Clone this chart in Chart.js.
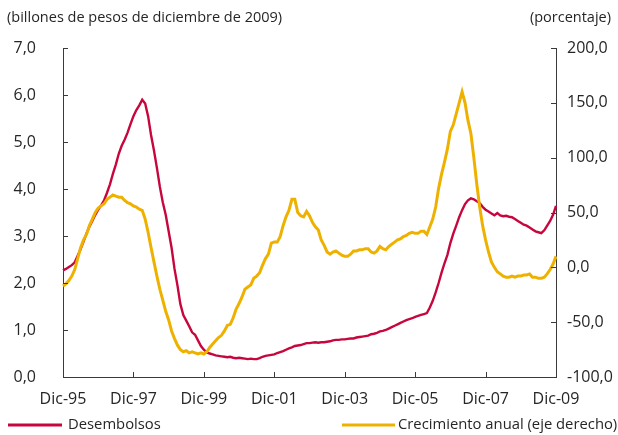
<!DOCTYPE html>
<html>
<head>
<meta charset="utf-8">
<script src="https://cdn.jsdelivr.net/npm/chart.js@4/dist/chart.umd.min.js"></script>
<style>
  html, body { margin: 0; padding: 0; background: #fff; }
  #wrap { width: 618px; height: 435px; }
</style>
</head>
<body>
<div id="wrap"><canvas id="chart" width="618" height="435"></canvas></div>
<script>
// Monthly series, Dic-95 .. Dic-09 (169 months)
const monthNames = ['Ene', 'Feb', 'Mar', 'Abr', 'May', 'Jun', 'Jul', 'Ago', 'Sep', 'Oct', 'Nov', 'Dic']
const firstYear = 1995
const lastYear = 2009

// Desembolsos (billones de pesos de diciembre de 2009), left axis
const desembolsos = [
  2.27,
  2.30, 2.34, 2.38, 2.44, 2.58, 2.72, 2.88, 3.05, 3.20, 3.32, 3.45, 3.56,
  3.65, 3.76, 3.92, 4.10, 4.32, 4.52, 4.75, 4.92, 5.05, 5.20, 5.38, 5.55,
  5.68, 5.78, 5.90, 5.82, 5.55, 5.15, 4.82, 4.45, 4.05, 3.72, 3.45, 3.10,
  2.75, 2.30, 1.95, 1.55, 1.32, 1.20, 1.08, 0.95, 0.90, 0.78, 0.66, 0.58,
  0.52, 0.50, 0.48, 0.46, 0.45, 0.44, 0.43, 0.42, 0.43, 0.41, 0.40, 0.41,
  0.40, 0.39, 0.38, 0.39, 0.38, 0.38, 0.40, 0.43, 0.45, 0.46, 0.47, 0.48,
  0.51, 0.53, 0.55, 0.58, 0.61, 0.63, 0.66, 0.67, 0.68, 0.70, 0.72, 0.72,
  0.73, 0.74, 0.73, 0.74, 0.74, 0.75, 0.76, 0.78, 0.79, 0.79, 0.80, 0.80,
  0.81, 0.82, 0.82, 0.84, 0.85, 0.86, 0.87, 0.88, 0.91, 0.92, 0.94, 0.97,
  0.98, 1.00, 1.03, 1.06, 1.09, 1.12, 1.15, 1.18, 1.21, 1.23, 1.25, 1.28,
  1.30, 1.32, 1.34, 1.36, 1.48, 1.62, 1.80, 2.00, 2.22, 2.42, 2.60, 2.85,
  3.05, 3.22, 3.40, 3.55, 3.68, 3.76, 3.80, 3.78, 3.74, 3.70, 3.62, 3.56,
  3.52, 3.48, 3.44, 3.49, 3.44, 3.42, 3.43, 3.41, 3.40, 3.36, 3.32, 3.28,
  3.24, 3.22, 3.18, 3.14, 3.10, 3.08, 3.06, 3.12, 3.22, 3.32, 3.45, 3.64
]

// Crecimiento anual (porcentaje), right axis
const crecimiento = [
  -17,
  -15, -12, -8, -2, 8, 18, 25, 30, 38, 44, 50, 54,
  56, 58, 62, 64, 66, 65, 64, 64, 61, 59, 58, 56,
  55, 53, 52, 44, 32, 18, 5, -8, -20, -30, -40, -48,
  -58, -65, -71, -75, -77, -76, -78, -77, -78, -79, -78, -79,
  -77, -73, -70, -67, -64, -62, -58, -53, -52, -46, -38, -33,
  -27, -20, -18, -16, -10, -8, -5, 2, 8, 12, 22, 23,
  23, 28, 38, 46, 52, 62, 62, 50, 47, 46, 51, 47,
  41, 37, 34, 25, 20, 14, 12, 14, 15, 13, 11, 10,
  10, 12, 15, 15, 16, 16, 17, 17, 14, 13, 15, 19,
  17, 16, 19, 21, 23, 25, 26, 28, 29, 31, 32, 31,
  31, 33, 33, 30, 37, 44, 55, 72, 85, 96, 108, 124,
  130, 140, 150, 160, 150, 134, 122, 100, 76, 55, 38, 25,
  14, 5, 0, -4, -6, -8, -9, -9, -8, -9, -8, -8,
  -7, -7, -6, -9, -9, -10, -10, -9, -6, -2, 3, 10
]

const leftTicks = { min: 0, max: 7, step: 1 }
const rightTicks = { min: -100, max: 200, step: 50 }

const labels = []
for (let y = firstYear; y <= lastYear; y++) {
  monthNames.forEach((m, i) => {
    if (y === firstYear && i < 11) return
    labels.push(m + '-' + String(y).slice(2))
  })
}

const RED = '#C8063E'
const GOLD = '#EFB100'
const AXIS = '#3a3a3a'
const TEXT = '#262626'
const FONT = '"Open Sans", sans-serif'

const fmt = v => v.toFixed(1).replace('.', ',')

// inside tick marks, titles and legend
const decorations = {
  id: 'decorations',
  afterDraw(chart) {
    const ctx = chart.ctx
    const { left, right, top, bottom } = chart.chartArea
    const x = chart.scales.x
    const y = chart.scales.y
    const y1 = chart.scales.y1
    ctx.save()
    ctx.strokeStyle = AXIS
    ctx.lineWidth = 1
    ctx.beginPath()
    labels.forEach((l, i) => {
      if (i % 24 !== 0) return
      const px = Math.round(x.getPixelForValue(i)) + 0.5
      ctx.moveTo(px, bottom)
      ctx.lineTo(px, bottom - 5)
    })
    for (let v = leftTicks.min; v <= leftTicks.max; v += leftTicks.step) {
      const py = Math.round(y.getPixelForValue(v)) + 0.5
      ctx.moveTo(left, py)
      ctx.lineTo(left + 5, py)
    }
    for (let v = rightTicks.min; v <= rightTicks.max; v += rightTicks.step) {
      const py = Math.round(y1.getPixelForValue(v)) + 0.5
      ctx.moveTo(right, py)
      ctx.lineTo(right - 5, py)
    }
    ctx.stroke()

    ctx.fillStyle = TEXT
    ctx.font = '14.5px ' + FONT
    ctx.textBaseline = 'middle'
    ctx.textAlign = 'left'
    ctx.fillText('(billones de pesos de diciembre de 2009)', 7, 18)
    ctx.textAlign = 'right'
    ctx.fillText('(porcentaje)', 611, 18)

    // legend
    const ly = 425
    ctx.lineWidth = 3
    ctx.strokeStyle = RED
    ctx.beginPath(); ctx.moveTo(8, ly); ctx.lineTo(62, ly); ctx.stroke()
    ctx.strokeStyle = GOLD
    ctx.beginPath(); ctx.moveTo(342, ly); ctx.lineTo(395, ly); ctx.stroke()
    ctx.textAlign = 'left'
    ctx.font = '14.8px ' + FONT
    ctx.fillText('Desembolsos', 68, ly)
    ctx.fillText('Crecimiento anual (eje derecho)', 398, ly)
    ctx.restore()
  }
}

new Chart(document.getElementById('chart'), {
  type: 'line',
  data: {
    labels: labels,
    datasets: [
      {
        label: 'Desembolsos',
        data: desembolsos,
        yAxisID: 'y',
        borderColor: RED,
        borderWidth: 2.4,
        pointRadius: 0,
        tension: 0,
        order: 1
      },
      {
        label: 'Crecimiento anual (eje derecho)',
        data: crecimiento,
        yAxisID: 'y1',
        borderColor: GOLD,
        borderWidth: 3,
        pointRadius: 0,
        tension: 0,
        order: 0
      }
    ]
  },
  options: {
    responsive: false,
    animation: false,
    layout: { padding: { top: 48, left: 0, right: 0, bottom: 0 } },
    plugins: {
      legend: { display: false },
      tooltip: { enabled: false }
    },
    scales: {
      x: {
        offset: false,
        afterFit: s => { s.height = 58 },
        grid: { display: false, drawTicks: false },
        border: { display: true, color: AXIS, width: 1 },
        ticks: {
          autoSkip: false,
          maxRotation: 0,
          padding: 13,
          color: TEXT,
          font: { family: FONT, size: 16 },
          callback: function(v, i) { return i % 24 === 0 ? labels[i] : null }
        }
      },
      y: {
        position: 'left',
        min: leftTicks.min,
        max: leftTicks.max,
        afterFit: s => { s.width = 63 },
        grid: { display: false, drawTicks: false },
        border: { display: true, color: AXIS, width: 1 },
        ticks: {
          stepSize: leftTicks.step,
          padding: 27,
          color: TEXT,
          font: { family: FONT, size: 16 },
          callback: v => fmt(v)
        }
      },
      y1: {
        position: 'right',
        min: rightTicks.min,
        max: rightTicks.max,
        afterFit: s => { s.width = 62 },
        grid: { display: false, drawTicks: false },
        border: { display: true, color: AXIS, width: 1 },
        ticks: {
          stepSize: rightTicks.step,
          padding: 11,
          color: TEXT,
          font: { family: FONT, size: 16 },
          callback: v => fmt(v)
        }
      }
    }
  },
  plugins: [decorations]
})
</script>
</body>
</html>
